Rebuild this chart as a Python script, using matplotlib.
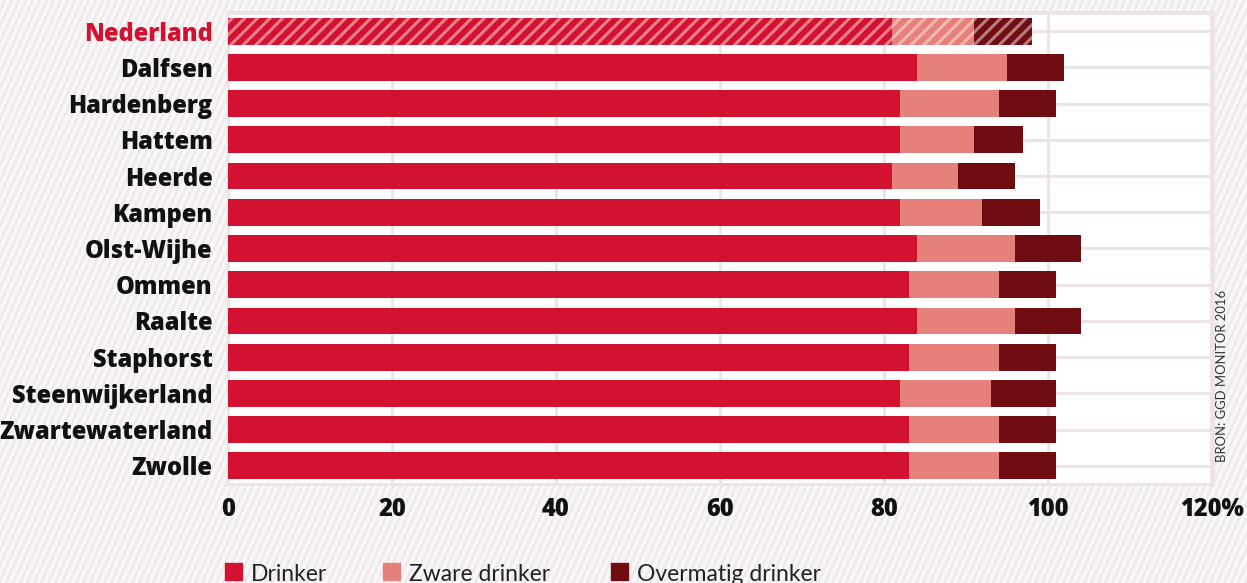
import matplotlib
matplotlib.use("Agg")
import matplotlib.pyplot as plt
import numpy as np
from matplotlib.collections import LineCollection
from matplotlib.transforms import IdentityTransform
from matplotlib.patches import Rectangle

gemeenten = ["Nederland", "Dalfsen", "Hardenberg", "Hattem", "Heerde", "Kampen",
             "Olst-Wijhe", "Ommen", "Raalte", "Staphorst", "Steenwijkerland",
             "Zwartewaterland", "Zwolle"]
drinker = [81, 84, 82, 82, 81, 82, 84, 83, 84, 83, 82, 83, 83]
zware = [10, 11, 12, 9, 8, 10, 12, 11, 12, 11, 11, 11, 11]
overmatig = [7, 7, 7, 6, 7, 7, 8, 7, 8, 7, 8, 7, 7]
xticks = [0, 20, 40, 60, 80, 100, 120]
xlabels = ["0", "20", "40", "60", "80", "100", "120%"]

RED = "#d31130"
SALMON = "#e6807a"
DARK = "#700d13"
GRID = "#ede4e7"

W, H = 1247, 583
fig = plt.figure(figsize=(W / 100, H / 100), dpi=100, facecolor="#f9f7f8")

# diagonal stripes on the page background
seg = []
for x0 in np.arange(-400, W + 20, 7.0):
    seg.append([(x0, 0), (x0 + H / 2.2, H)])
fig.add_artist(LineCollection(seg, colors="#efe9eb", linewidths=1.8,
                              transform=IdentityTransform(), zorder=-10))

ax = fig.add_axes([228 / W, (H - 484) / H, 984 / W, 471 / H])
ax.set_facecolor("white")
ax.set_xlim(0, 120)
ax.set_ylim(len(gemeenten) - 0.5, -0.5)

y = np.arange(len(gemeenten))
left2 = np.array(drinker)
left3 = left2 + np.array(zware)
b1 = ax.barh(y, drinker, height=0.74, color=RED, zorder=3)
b2 = ax.barh(y, zware, left=left2, height=0.74, color=SALMON, zorder=3)
b3 = ax.barh(y, overmatig, left=left3, height=0.74, color=DARK, zorder=3)

# grid: vertical at ticks, horizontal through each row
for xv in xticks[1:-1]:
    ax.axvline(xv, color=GRID, lw=2.2, zorder=1)
for yv in y:
    ax.axhline(yv, color=GRID, lw=2.2, zorder=1)
for s in ax.spines.values():
    s.set_color(GRID)
    s.set_linewidth(2.2)
ax.spines["right"].set_linewidth(3.5)
ax.spines["top"].set_linewidth(3.0)

# striped overlay on the Nederland bar
stripes = []
for xp in np.arange(150, 1100, 12.6):
    stripes.append([(xp, 583 - 50), (xp + 40, 583 - 10)])
for bars in (b1, b2, b3):
    patch = bars.patches[0]
    lc = LineCollection(stripes, colors=[(1, 0.93, 0.9, 0.5)], linewidths=2.2,
                        transform=IdentityTransform(), zorder=4)
    ax.add_collection(lc)
    lc.set_clip_path(patch)

lab_font = dict(fontfamily="Open Sans", fontweight="heavy", color="#111111")
ax.set_xticks(xticks)
ax.set_xticklabels(xlabels, fontsize=17, **lab_font)
ax.set_yticks(y)
ax.set_yticklabels(gemeenten, fontsize=17, **lab_font)
ax.get_yticklabels()[0].set_color(RED)
ax.tick_params(axis="x", length=0, pad=9)
ax.tick_params(axis="y", length=0, pad=11)

fig.text(1222 / W, 1 - 376 / H, "BRON: GGD MONITOR 2016", rotation=90,
         ha="center", va="center", fontsize=9.4, color="#333333",
         fontfamily="Lato")

# legend along the bottom
items = [("Drinker", RED, 225), ("Zware drinker", SALMON, 383),
         ("Overmatig drinker", DARK, 611)]
for label, col, px in items:
    fig.add_artist(Rectangle((px / W, 1 - 580 / H), 17 / W, 17 / H,
                             transform=fig.transFigure, color=col))
    fig.text((px + 26) / W, 1 - 581 / H, label, ha="left", va="baseline",
             fontsize=16.5, color="#222222", fontfamily="Lato")

fig.savefig("out.png", dpi=100, facecolor=fig.get_facecolor())
